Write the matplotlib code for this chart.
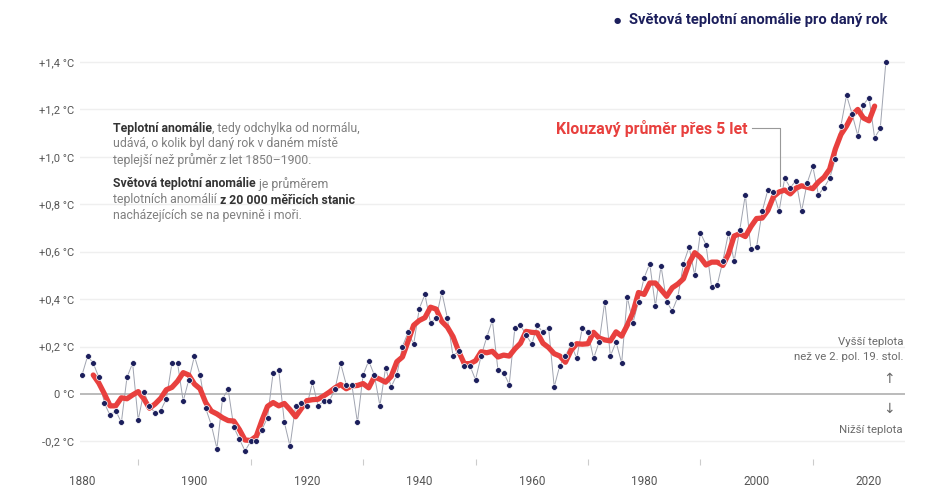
import numpy as np
import pandas as pd
import matplotlib
matplotlib.use("Agg")
import matplotlib.pyplot as plt

plt.rcParams['font.family'] = ['Roboto', 'DejaVu Sans']

years = list(range(1880, 2024))
anomaly = [
    0.08, 0.16, 0.13, 0.07, -0.04, -0.09, -0.07, -0.12, 0.07, 0.13,   # 1880-1889
    -0.11, 0.01, -0.05, -0.08, -0.07, -0.02, 0.13, 0.13, -0.03, 0.06, # 1890-1899
    0.16, 0.08, -0.06, -0.13, -0.23, -0.02, 0.02, -0.14, -0.19, -0.24,# 1900-1909
    -0.20, -0.20, -0.15, -0.10, 0.09, 0.10, -0.12, -0.22, -0.05, -0.04,# 1910-1919
    -0.05, 0.05, -0.05, -0.03, -0.03, 0.02, 0.13, 0.04, 0.04, -0.12,  # 1920-1929
    0.08, 0.14, 0.08, -0.05, 0.11, 0.03, 0.08, 0.20, 0.26, 0.21,      # 1930-1939
    0.36, 0.42, 0.30, 0.32, 0.43, 0.32, 0.16, 0.18, 0.12, 0.12,       # 1940-1949
    0.06, 0.16, 0.24, 0.31, 0.10, 0.09, 0.04, 0.28, 0.29, 0.25,       # 1950-1959
    0.21, 0.29, 0.26, 0.28, 0.03, 0.12, 0.16, 0.21, 0.15, 0.28,       # 1960-1969
    0.26, 0.15, 0.22, 0.39, 0.16, 0.22, 0.13, 0.41, 0.30, 0.39,       # 1970-1979
    0.49, 0.55, 0.37, 0.54, 0.39, 0.35, 0.41, 0.55, 0.62, 0.50,       # 1980-1989
    0.68, 0.63, 0.45, 0.46, 0.56, 0.68, 0.56, 0.69, 0.84, 0.61,       # 1990-1999
    0.62, 0.77, 0.86, 0.85, 0.77, 0.91, 0.87, 0.90, 0.77, 0.89,       # 2000-2009
    0.96, 0.84, 0.87, 0.91, 0.99, 1.13, 1.26, 1.18, 1.09, 1.22,       # 2010-2019
    1.25, 1.08, 1.12, 1.40,                                           # 2020-2023
]
y_ticks = [-0.2, 0.0, 0.2, 0.4, 0.6, 0.8, 1.0, 1.2, 1.4]
y_tick_labels = ["-0,2 °C", "0 °C", "+0,2 °C", "+0,4 °C", "+0,6 °C",
                 "+0,8 °C", "+1,0 °C", "+1,2 °C", "+1,4 °C"]
x_ticks = [1880, 1900, 1920, 1940, 1960, 1980, 2000, 2020]

W, H = 940, 488
fig = plt.figure(figsize=(W / 100, H / 100), dpi=100)
fig.patch.set_facecolor('white')

# pixel mapping: 1880 -> 82 px, 2020 -> 869 px ; 0 -> 394 px, 1.4 -> 62 px
pxy = (869 - 82) / 140.0
pxv = (394 - 62) / 1.4
left_px, right_px, top_px, bot_px = 80, 905, 50, 465
xlim = (1880 + (left_px - 82) / pxy, 1880 + (right_px - 82) / pxy)
ylim = ((394 - bot_px) / pxv, (394 - top_px) / pxv)
ax = fig.add_axes([left_px / W, 1 - bot_px / H, (right_px - left_px) / W, (bot_px - top_px) / H])
ax.set_xlim(*xlim)
ax.set_ylim(*ylim)

for s in ax.spines.values():
    s.set_visible(False)

for v in y_ticks:
    if v == 0:
        ax.axhline(0, color='#a8a8a8', lw=1.1, zorder=1)
    else:
        ax.axhline(v, color='#efefef', lw=1.0, zorder=1)

ax.set_yticks(y_ticks)
ax.set_yticklabels(y_tick_labels)
ax.tick_params(axis='y', length=0, pad=4, labelsize=8, labelcolor='#555555')
ax.set_xticks(x_ticks)
ax.set_xticklabels([str(x) for x in x_ticks])
ax.set_xticks([1890, 1910, 1930, 1950, 1970, 1990, 2010], minor=True)
ax.tick_params(axis='x', which='major', length=0, pad=7, labelsize=8.5, labelcolor='#555555')
ax.tick_params(axis='x', which='minor', length=4, width=0.8, color='#cccccc', direction='in')

s = pd.Series(anomaly, index=years)
ma = s.rolling(5, center=True).mean()

ax.plot(years, anomaly, color='#a0a4b0', lw=0.7, zorder=2)
ax.plot(ma.index, ma.values, color='#e8403e', lw=3.8, zorder=3, solid_capstyle='round',
        solid_joinstyle='round')
ax.plot(years, anomaly, ls='none', marker='o', ms=4.2, mfc='#1c1f5c', mec='white',
        mew=0.5, zorder=4)

# Legend
fig.text(617 / W, 1 - 20 / H, '●', color='#1c1f5c', fontsize=6, ha='center', va='center',
         family=['DejaVu Sans'])
fig.text(629 / W, 1 - 20 / H, 'Světová teplotní anomálie pro daný rok', color='#1c1f5c',
         fontsize=10.6, fontweight='bold', ha='left', va='center')

# Moving-average label with leader line
t = fig.text(748 / W, 1 - 128 / H, 'Klouzavý průměr přes 5 let', color='#e8403e',
             fontsize=11.4, fontweight='bold', ha='right', va='center')
lead_y = (394 - 128) / pxv
x0 = 1880 + (752 - 82) / pxy
x1 = 1880 + (780 - 82) / pxy
ax.plot([x0, x1, x1], [lead_y, lead_y, (394 - 186) / pxv], color='#999999', lw=0.8,
        zorder=2, clip_on=False)

# Explanatory text block with mixed weights
fig.canvas.draw()
renderer = fig.canvas.get_renderer()


def runs(x_px, y_px, parts, size=8.8):
    x = x_px
    for txt, bold in parts:
        tt = fig.text(x / W, 1 - y_px / H, txt, fontsize=size,
                      fontweight='bold' if bold else 'normal',
                      color='#333333' if bold else '#808080', ha='left', va='center')
        bb = tt.get_window_extent(renderer=renderer)
        x += bb.width


runs(113, 128, [("Teplotní anomálie", True), (", tedy odchylka od normálu,", False)])
runs(113, 144, [("udává, o kolik byl daný rok v daném místě", False)])
runs(113, 160, [("teplejší než průměr z let 1850–1900.", False)])
runs(113, 184, [("Světová teplotní anomálie", True), (" je průměrem", False)])
runs(113, 200, [("teplotních anomálií ", False), ("z 20 000 měřicích stanic", True)])
runs(113, 216, [("nacházejících se na pevnině i moři.", False)])

# Right-side annotation
fs_r = 8.2
fig.text(903 / W, 1 - 342 / H, 'Vyšší teplota', fontsize=fs_r, color='#6a6a6a',
         ha='right', va='center')
fig.text(903 / W, 1 - 357 / H, 'než ve 2. pol. 19. stol.', fontsize=fs_r, color='#6a6a6a',
         ha='right', va='center')
fig.text(889 / W, 1 - 379 / H, '↑', fontsize=10, color='#6a6a6a', ha='center', va='center',
         family=['DejaVu Sans'])
fig.text(889 / W, 1 - 409 / H, '↓', fontsize=10, color='#6a6a6a', ha='center', va='center',
         family=['DejaVu Sans'])
fig.text(903 / W, 1 - 430 / H, 'Nižší teplota', fontsize=fs_r, color='#6a6a6a',
         ha='right', va='center')

fig.savefig('out.png', dpi=100, facecolor='white')
